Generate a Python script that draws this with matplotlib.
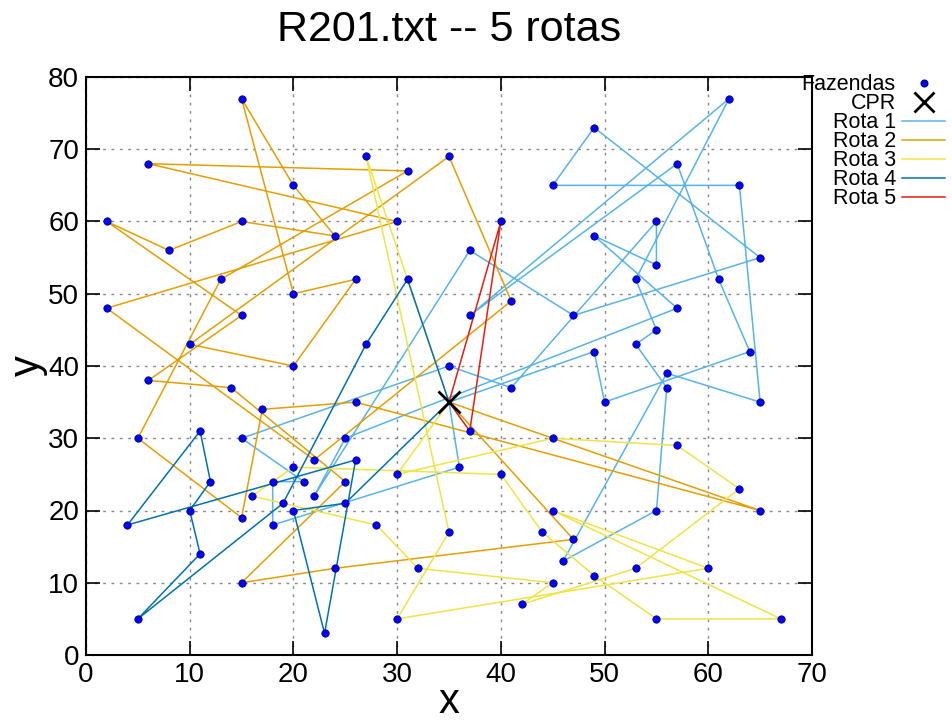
import matplotlib
matplotlib.use("Agg")
import matplotlib.pyplot as plt
from matplotlib.lines import Line2D

plt.rcParams['font.family'] = ['Liberation Sans', 'DejaVu Sans']

# depot
cpr_x, cpr_y = 35, 35

# customers (Solomon R201)
cust_x = [41, 35, 55, 55, 15, 25, 20, 10, 55, 30, 20, 50, 30, 15, 30, 10, 5, 20, 15, 45,
          45, 45, 55, 65, 65, 45, 35, 41, 64, 40, 31, 35, 53, 65, 63, 2, 20, 5, 60, 40,
          42, 24, 23, 11, 6, 2, 8, 13, 6, 47, 49, 27, 37, 57, 63, 53, 32, 36, 21, 17,
          12, 24, 27, 15, 62, 49, 67, 56, 37, 37, 57, 47, 44, 46, 49, 49, 53, 61, 57, 56,
          55, 15, 14, 11, 16, 4, 28, 26, 26, 31, 15, 22, 18, 26, 25, 22, 25, 19, 20, 18]
cust_y = [49, 17, 45, 20, 30, 30, 50, 43, 60, 60, 65, 35, 25, 10, 5, 20, 30, 40, 60, 65,
          20, 10, 5, 35, 20, 30, 40, 37, 42, 60, 52, 69, 52, 55, 65, 60, 20, 5, 12, 25,
          7, 12, 3, 14, 38, 48, 56, 52, 68, 47, 58, 43, 31, 29, 23, 12, 12, 26, 24, 34,
          24, 58, 69, 77, 77, 73, 5, 39, 47, 56, 68, 16, 17, 13, 11, 42, 43, 52, 48, 37,
          54, 47, 37, 31, 22, 18, 18, 52, 35, 67, 19, 22, 24, 27, 24, 27, 21, 21, 26, 18]

# routes as (x, y) stop lists, depot at both ends
route1 = [(35, 35), (36, 26), (18, 18), (18, 24), (21, 24), (15, 30), (35, 40), (41, 37),
          (55, 60), (55, 54), (49, 58), (57, 48), (25, 30), (22, 22), (37, 56), (47, 47),
          (65, 55), (49, 73), (45, 65), (63, 65), (65, 35), (56, 39), (46, 13), (55, 20),
          (56, 37), (53, 43), (55, 45), (53, 52), (62, 77), (37, 47), (57, 68), (61, 52),
          (64, 42), (50, 35), (49, 42), (35, 35)]
route2 = [(35, 35), (47, 16), (24, 12), (15, 10), (25, 24), (14, 37), (6, 38), (15, 47), (2, 60),
          (8, 56), (15, 60), (24, 58), (20, 65), (15, 77), (20, 50), (26, 52), (20, 40), (10, 43),
          (35, 69), (41, 49), (22, 27), (2, 48), (30, 60), (6, 68), (31, 67), (13, 52), (5, 30),
          (15, 19), (17, 34), (26, 35), (65, 20), (35, 35)]
route3 = [(35, 35), (27, 69), (35, 17), (30, 5), (60, 12), (45, 20), (67, 5), (55, 5), (49, 11),
          (44, 17), (40, 25), (20, 26), (16, 22), (28, 18), (32, 12), (45, 10), (42, 7), (53, 12),
          (63, 23), (57, 29), (45, 30), (30, 25), (35, 35)]
route4 = [(35, 35), (31, 52), (27, 43), (19, 21), (5, 5), (11, 14), (10, 20), (12, 24), (11, 31),
          (4, 18), (26, 27), (23, 3), (20, 20), (25, 21), (35, 35)]
route5 = [(35, 35), (40, 60), (37, 31), (35, 35)]

routes = [route1, route2, route3, route4, route5]
route_labels = ["Rota 1", "Rota 2", "Rota 3", "Rota 4", "Rota 5"]
route_colors = ["#56b4e9", "#e69f00", "#f0e442", "#0072b2", "#e51e10"]

fig = plt.figure(figsize=(9.53, 7.22), dpi=100)
ax = fig.add_axes([86 / 953, 67 / 722, (812 - 86) / 953, (655 - 77) / 722])

for r, lab, col in zip(routes, route_labels, route_colors):
    xs = [p[0] for p in r]
    ys = [p[1] for p in r]
    ax.plot(xs, ys, color=col, lw=1.1, zorder=2, label=lab)

ax.scatter(cust_x, cust_y, s=28, color="#0000ff", edgecolors="#00008b",
           linewidths=0.6, zorder=4, label="Fazendas")
ax.plot([cpr_x], [cpr_y], linestyle="none", marker="x", markersize=16,
        markeredgewidth=2.0, color="black", zorder=5, label="CPR")

ax.set_xlim(0, 70)
ax.set_ylim(0, 80)
ax.set_xticks(range(0, 71, 10))
ax.set_yticks(range(0, 81, 10))
ax.tick_params(direction="in", length=10, width=1.2, labelsize=20, top=True, right=True,
               labeltop=False, labelright=False, pad=5)
ax.grid(True, color="#888888", linestyle=(0, (2, 4)), linewidth=1.0)
for s in ax.spines.values():
    s.set_linewidth(1.5)
ax.set_xlabel("x", fontsize=30, labelpad=-4)
ax.set_ylabel("y", fontsize=30, labelpad=0)
ax.set_title("R201.txt -- 5 rotas", fontsize=31, pad=26)

leg_handles = [Line2D([], [], linestyle="none", marker="o", markersize=4.8,
                      markerfacecolor="#0000ff", markeredgecolor="#00008b"),
               Line2D([], [], linestyle="none", marker="x", markersize=15,
                      markeredgewidth=2.0, color="black")] + \
              [Line2D([], [], color=c, lw=1.1) for c in route_colors]
leg = ax.legend(leg_handles, ["Fazendas", "CPR"] + route_labels,
                loc="upper left", bbox_to_anchor=(0.974, 1.02), frameon=False,
                markerfirst=False, fontsize=15.5, labelspacing=-0.09, handlelength=2.0,
                handletextpad=0.3, borderaxespad=0.0)
for t in leg.get_texts():
    t.set_ha("right")

fig.savefig("out.png", dpi=100)
